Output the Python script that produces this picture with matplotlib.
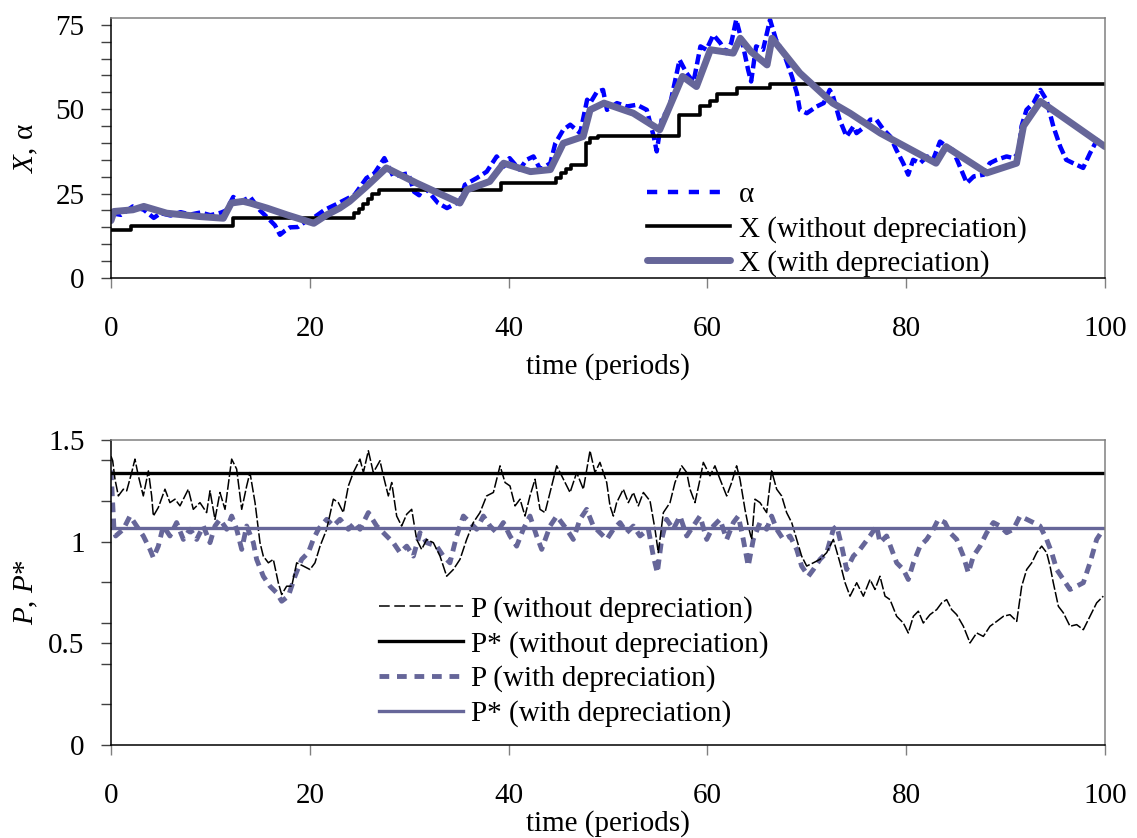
import numpy as np
import matplotlib
matplotlib.use('Agg')
import matplotlib.pyplot as plt
from matplotlib.lines import Line2D
from matplotlib.ticker import MultipleLocator, FixedLocator

plt.rcParams['font.family'] = ['Liberation Serif', 'DejaVu Serif']
plt.rcParams['mathtext.fontset'] = 'custom'
plt.rcParams['mathtext.rm'] = 'Liberation Serif'
plt.rcParams['mathtext.it'] = 'Liberation Serif:italic'
plt.rcParams['font.size'] = 21

# ---- top panel: alpha, X ----
alpha_t = [0.0, 1.0, 2.2, 3.3, 4.3, 5.0, 6.0, 7.0, 8.0, 9.0, 10.0, 11.0, 11.6, 12.3, 13.0, 14.0, 15.0, 15.7,
           16.5, 17.0, 17.5, 18.0, 18.8, 19.5, 20.5, 21.5, 22.5, 23.5, 24.5, 25.7, 26.5, 27.5, 28.4, 29.9,
           30.5, 31.0, 31.5, 32.9, 33.8, 35.1, 35.6, 36.8, 37.8, 38.8, 39.5, 40.1, 41.1, 41.8, 42.5, 43.2,
           44.2, 44.7, 45.5, 46.2, 47.2, 47.9, 48.2, 48.9, 49.5, 49.9, 50.9, 51.9, 52.9, 53.9, 54.6, 54.9,
           55.4, 56.2, 57.2, 57.9, 58.6, 59.3, 59.9, 60.6, 61.3, 61.9, 62.4, 62.9, 63.6, 64.1, 64.4, 64.9,
           65.6, 66.3, 66.9, 67.8, 68.5, 69.0, 69.3, 70.0, 71.0, 71.7, 72.3, 72.6, 73.3, 74.0, 74.7, 75.0,
           75.7, 76.4, 77.0, 77.7, 78.4, 79.0, 79.7, 80.2, 80.7, 81.4, 82.1, 82.7, 83.4, 84.1, 84.7, 85.4,
           86.1, 86.8, 87.8, 88.4, 89.1, 90.1, 90.8, 91.3, 91.6, 92.1, 92.8, 93.5, 94.1, 94.8, 95.5, 96.1,
           96.8, 97.8, 98.5, 99.2, 100.0]
alpha = [19.2, 18.7, 21.2, 20.2, 17.8, 19.2, 18.5, 19.5, 18.8, 19.4, 18.6, 19.3, 20.0, 24.0, 22.5, 24.0, 20.0, 18.0,
         15.6, 12.8, 14.0, 15.0, 15.1, 16.6, 18.1, 20.2, 21.6, 23.1, 24.6, 29.6, 31.0, 35.5, 30.1, 31.0,
         25.5, 24.5, 27.1, 22.2, 20.7, 22.7, 27.6, 29.6, 31.5, 36.0, 33.0, 35.5, 32.1, 35.0, 36.0, 32.1,
         34.0, 39.9, 43.9, 45.4, 42.9, 52.8, 51.8, 55.2, 55.7, 49.8, 51.8, 50.8, 51.3, 49.8, 41.9, 37.5,
         46.9, 50.8, 64.6, 60.7, 58.0, 68.6, 67.6, 72.0, 69.6, 66.6, 69.6, 76.5, 68.6, 61.6, 58.2, 68.6,
         67.6, 76.5, 70.6, 65.6, 59.7, 54.8, 49.8, 48.8, 50.8, 51.8, 55.7, 54.2, 46.9, 41.9, 44.9, 42.9,
         44.5, 46.9, 46.9, 44.0, 41.9, 38.0, 34.0, 30.6, 35.0, 34.0, 36.0, 35.0, 40.4, 38.9, 37.9, 33.0,
         28.1, 30.1, 30.6, 34.0, 35.0, 36.0, 35.5, 37.0, 44.9, 49.8, 51.8, 55.7, 52.8, 44.9, 38.9, 35.0,
         34.0, 32.6, 37.0, 40.9, 38.9]

# X without depreciation (step levels)
xnd_t = [0, 2.0, 12.3, 24.4, 24.9, 25.4, 25.9, 26.3, 27.0, 39.2, 44.8, 45.3, 45.8, 46.3, 47.8, 48.2,
         49.0, 57.1, 59.3, 60.3, 61.0, 63.0, 66.3, 100]
xnd = [14.3, 15.3, 17.8, 19.2, 20.5, 22.0, 23.5, 25.0, 26.1, 28.1, 29.6, 31.0, 32.2, 33.5, 39.9, 41.4,
       42.1, 48.3, 50.8, 52.3, 54.5, 56.3, 57.4, 57.4]

# X with depreciation
xwd_t = [0.0, 0.3, 2.2, 3.3, 5.6, 8.9, 11.3, 12.1, 13.3, 14.0, 15.7, 17.7, 20.4, 21.7, 23.0, 24.0, 25.7,
         27.7, 30.75, 35.1, 35.8, 38.1, 39.5, 42.2, 44.2, 45.5, 47.5, 48.2, 49.6, 52.55, 55.2, 57.5, 58.9,
         60.3, 62.6, 63.3, 64.4, 66.0, 66.5, 69.3, 72.6, 74.35, 77.4, 83.0, 84.0, 88.1, 91.1, 91.8, 93.5,
         100.0]
xwd = [17.0, 19.7, 20.2, 21.2, 19.2, 18.2, 17.7, 22.2, 22.7, 22.2, 20.7, 18.7, 16.2, 18.7, 20.7, 22.7, 27.1,
       32.6, 28.1, 22.2, 26.1, 28.6, 34.0, 31.5, 32.1, 39.9, 41.9, 49.8, 51.8, 48.8, 43.9, 59.7, 56.7,
       67.6, 66.6, 71.0, 67.0, 63.1, 71.0, 60.7, 51.8, 48.8, 42.9, 34.0, 38.9, 31.1, 34.0, 45.0, 52.3,
       38.9]

# ---- bottom panel: P, P* ----
pnd_t = [0.0, 0.17, 0.40, 0.74, 1.24, 1.58, 2.08, 2.41, 2.75, 3.25,
         3.76, 4.09, 4.26, 4.76, 5.43, 5.93, 6.44, 6.94, 7.78, 8.28,
         8.95, 9.62, 9.96, 10.46, 10.96, 11.47, 12.14, 12.64, 13.15, 13.65,
         13.98, 14.49, 14.99, 15.32, 15.83, 16.33, 16.83, 17.17, 17.67, 18.18,
         18.68, 19.35, 20.02, 20.52, 21.03, 21.70, 22.37, 22.87, 23.37, 23.88,
         24.38, 25.05, 25.39, 25.89, 26.39, 27.06, 27.40, 27.90, 28.24, 28.74,
         29.24, 29.75, 30.25, 30.75, 31.25, 31.76, 32.43, 33.10, 33.77, 34.44,
         35.11, 35.78, 36.45, 37.12, 37.79, 38.47, 39.14, 39.64, 40.14, 40.65,
         41.15, 41.65, 42.15, 42.66, 43.16, 43.66, 44.17, 44.84, 45.51, 46.18,
         46.85, 47.52, 48.19, 48.69, 49.19, 49.87, 50.20, 50.54, 50.87, 51.54,
         52.05, 52.55, 53.05, 53.56, 54.23, 54.73, 55.06, 55.57, 56.24, 56.74,
         57.41, 57.92, 58.25, 58.75, 59.26, 59.59, 60.26, 60.76, 61.27, 61.94,
         62.44, 62.94, 63.28, 63.78, 64.11, 64.45, 64.79, 65.29, 65.96, 66.46,
         66.97, 67.47, 67.97, 68.48, 68.98, 69.48, 69.99, 70.66, 71.33, 72.00,
         72.67, 73.34, 73.85, 74.35, 75.02, 75.69, 76.36, 76.86, 77.36, 77.87,
         78.37, 79.04, 79.71, 80.21, 80.72, 81.22, 81.72, 82.39, 83.07, 83.57,
         84.07, 84.57, 85.08, 85.75, 86.42, 87.09, 87.76, 88.43, 89.11, 89.78,
         90.44, 91.12, 91.62, 92.12, 92.63, 93.13, 93.63, 94.13, 94.47, 94.80,
         95.31, 95.81, 96.48, 97.15, 97.82, 98.49, 99.16, 99.83]
pnd = [1.42, 1.398, 1.307, 1.225, 1.258, 1.250, 1.340, 1.406, 1.324, 1.225,
       1.348, 1.225, 1.126, 1.168, 1.258, 1.192, 1.209, 1.176, 1.258, 1.159,
       1.192, 1.143, 1.250, 1.110, 1.242, 1.159, 1.406, 1.357, 1.159, 1.274,
       1.340, 1.192, 0.995, 0.929, 0.896, 0.913, 0.798, 0.740, 0.781, 0.781,
       0.896, 0.880, 0.863, 0.896, 0.978, 1.061, 1.209, 1.192, 1.143, 1.274,
       1.340, 1.406, 1.340, 1.447, 1.340, 1.398, 1.324, 1.225, 1.291, 1.126,
       1.077, 1.135, 1.159, 1.011, 0.962, 1.011, 0.995, 0.929, 0.830, 0.863,
       0.913, 1.011, 1.094, 1.143, 1.225, 1.242, 1.373, 1.291, 1.274, 1.176,
       1.209, 1.126, 1.225, 1.307, 1.159, 1.143, 1.242, 1.373, 1.307, 1.242,
       1.340, 1.258, 1.447, 1.340, 1.390, 1.291, 1.176, 1.126, 1.192, 1.258,
       1.192, 1.242, 1.176, 1.242, 1.200, 1.061, 0.946, 1.143, 1.192, 1.291,
       1.373, 1.340, 1.258, 1.192, 1.307, 1.390, 1.324, 1.373, 1.307, 1.225,
       1.291, 1.373, 1.307, 1.159, 1.077, 1.011, 1.209, 1.192, 1.143, 1.348,
       1.258, 1.225, 1.143, 1.094, 1.011, 0.929, 0.880, 0.896, 0.913, 0.946,
       1.011, 0.896, 0.798, 0.732, 0.798, 0.732, 0.814, 0.765, 0.830, 0.732,
       0.715, 0.633, 0.600, 0.551, 0.633, 0.658, 0.600, 0.641, 0.666, 0.699,
       0.715, 0.666, 0.641, 0.584, 0.502, 0.551, 0.534, 0.584, 0.608, 0.633,
       0.641, 0.608, 0.781, 0.863, 0.896, 0.946, 0.978, 0.946, 0.880, 0.798,
       0.682, 0.650, 0.584, 0.592, 0.567, 0.633, 0.699, 0.732]

pwd_t = [0.0, 0.3, 0.47, 1.24, 1.91, 2.58, 3.25, 3.92, 4.26, 4.76,
         5.26, 5.93, 6.60, 7.28, 7.95, 8.62, 9.29, 9.96, 10.46, 10.96,
         11.64, 12.14, 12.64, 13.15, 13.65, 14.32, 14.65, 15.32, 15.99, 16.67,
         17.17, 17.84, 18.51, 19.18, 19.85, 20.35, 20.86, 21.70, 22.37, 23.04,
         23.88, 24.55, 25.05, 25.89, 26.73, 27.40, 28.40, 29.08, 29.75, 30.42,
         31.09, 31.76, 32.76, 33.43, 34.10, 34.77, 35.45, 36.12, 36.79, 37.46,
         38.13, 38.80, 39.47, 40.14, 40.81, 41.48, 42.15, 42.82, 43.33, 44.17,
         44.84, 45.84, 46.51, 47.18, 47.85, 48.52, 49.19, 49.87, 50.54, 51.21,
         51.88, 52.55, 53.22, 54.06, 54.56, 54.96, 55.40, 55.90, 56.57, 57.24,
         57.92, 58.58, 59.26, 59.93, 60.60, 61.27, 61.94, 62.61, 63.11, 63.61,
         64.11, 64.62, 65.29, 65.96, 66.46, 66.97, 67.64, 68.31, 68.98, 69.48,
         70.16, 70.66, 71.33, 72.00, 72.67, 73.01, 73.51, 74.01, 74.68, 75.35,
         76.36, 77.03, 77.36, 78.03, 78.54, 79.04, 79.71, 80.21, 80.72, 81.39,
         82.06, 82.73, 83.23, 83.90, 84.41, 85.08, 85.75, 86.25, 86.76, 87.43,
         88.10, 88.77, 89.44, 90.11, 90.78, 91.45, 92.12, 92.79, 93.46, 94.13,
         94.64, 95.14, 95.81, 96.48, 97.15, 97.82, 98.49, 99.16, 99.83]
pwd = [1.35, 1.061, 1.028, 1.061, 1.126, 1.077, 1.028, 0.962, 0.921, 0.978,
       1.077, 1.028, 1.094, 1.011, 1.061, 1.011, 1.077, 0.995, 1.077, 1.110,
       1.061, 1.126, 1.061, 0.962, 1.077, 0.995, 0.913, 0.830, 0.781, 0.748,
       0.707, 0.732, 0.830, 0.913, 0.946, 1.011, 1.061, 1.110, 1.077, 1.110,
       1.061, 1.094, 1.061, 1.143, 1.077, 1.044, 0.995, 0.946, 0.978, 0.929,
       1.044, 0.995, 0.978, 0.929, 0.896, 1.028, 1.126, 1.094, 1.061, 1.126,
       1.077, 1.044, 1.094, 1.028, 0.978, 1.061, 1.126, 1.028, 0.962, 1.077,
       1.126, 1.061, 1.011, 1.110, 1.159, 1.077, 1.044, 1.011, 1.061, 1.094,
       1.044, 1.077, 1.028, 1.061, 0.929, 0.847, 1.011, 1.110, 1.061, 1.126,
       1.028, 1.077, 1.126, 1.011, 1.077, 1.110, 1.011, 1.094, 1.126, 1.011,
       0.880, 1.011, 1.094, 1.061, 1.126, 1.061, 1.011, 1.028, 0.962, 0.880,
       0.830, 0.863, 0.913, 0.946, 1.061, 1.077, 0.978, 0.863, 0.929, 0.962,
       1.028, 1.077, 0.995, 1.028, 0.962, 0.896, 0.863, 0.814, 0.896, 0.978,
       1.011, 1.061, 1.110, 1.094, 1.044, 1.011, 0.929, 0.847, 0.929, 0.978,
       1.044, 1.094, 1.077, 1.044, 1.061, 1.126, 1.110, 1.094, 1.077, 1.011,
       0.946, 0.863, 0.814, 0.765, 0.781, 0.798, 0.896, 1.011, 1.061]

pstar_nd = 1.34
pstar_wd = 1.069

GRAY = '#666699'


def style_axes(ax):
    ax.spines['left'].set_color('black')
    ax.spines['bottom'].set_color('black')
    ax.spines['top'].set_color('#808080')
    ax.spines['right'].set_color('#808080')
    for s in ax.spines.values():
        s.set_linewidth(1.1)
    ax.set_xlim(0, 100)
    ax.xaxis.set_major_locator(MultipleLocator(20))
    ax.tick_params(axis='x', which='major', direction='out', length=7, width=1,
                   color='#808080', pad=20)
    ax.tick_params(axis='y', which='both', direction='out', length=7, width=1,
                   color='#404040', pad=12)


fig = plt.figure(figsize=(11.37, 8.38), dpi=100)
ax1 = fig.add_axes([111 / 1137, 1 - 278 / 838, 994 / 1137, 260 / 838])
ax2 = fig.add_axes([111 / 1137, 1 - 745 / 838, 994 / 1137, 305 / 838])

# top
ax1.plot(alpha_t, alpha, color='#0000FF', lw=3.2, dashes=(2.3, 1.0), dash_capstyle='butt')
ax1.plot(xnd_t, xnd, color='black', lw=2.6, drawstyle='steps-post')
ax1.plot(xwd_t, xwd, color=GRAY, lw=5, solid_capstyle='round')
la = Line2D([], [], color='#0000FF', lw=3.2, dashes=(2.3, 2.4), dash_capstyle='butt')
lb = Line2D([], [], color='black', lw=2.6)
lc = Line2D([], [], color=GRAY, lw=5, solid_capstyle='round')
style_axes(ax1)
ax1.set_ylim(0, 77)
ax1.yaxis.set_major_locator(FixedLocator([0, 25, 50, 75]))
ax1.yaxis.set_minor_locator(FixedLocator([5, 10, 15, 20, 30, 35, 40, 45, 55, 60, 65, 70]))
ax1.set_xlabel('time (periods)', labelpad=8)
ax1.set_ylabel('$X$, α')
ax1.yaxis.set_label_coords(-0.0715, 0.5)
ax1.legend(handles=[la, lb, lc], labels=['α', 'X (without depreciation)', 'X (with depreciation)'],
           loc='upper left', bbox_to_anchor=(0.539, 0.369),
           frameon=False, borderpad=0, borderaxespad=0, handlelength=2.85,
           handletextpad=0.3, labelspacing=0.25)

# bottom
ax2.plot(pwd_t, pwd, color=GRAY, lw=3.5, dashes=(2.0, 1.3), dash_capstyle='butt')
ax2.plot(pnd_t, pnd, color='black', lw=1.1, dashes=(7, 1.5))
ax2.axhline(pstar_nd, color='black', lw=2.4)
ax2.axhline(pstar_wd, color=GRAY, lw=2.4)
l1 = Line2D([], [], color='black', lw=1.1, dashes=(7, 3))
l2 = Line2D([], [], color='black', lw=2.4)
l4 = Line2D([], [], color=GRAY, lw=3.5, dashes=(2.0, 1.6), dash_capstyle='butt')
l5 = Line2D([], [], color=GRAY, lw=2.4)
style_axes(ax2)
ax2.set_ylim(0, 1.5)
ax2.yaxis.set_major_locator(FixedLocator([0, 0.5, 1, 1.5]))
ax2.yaxis.set_minor_locator(FixedLocator([0.2, 0.4, 0.6, 0.8, 1.2, 1.4]))
ax2.set_yticklabels(['0', '0.5', '1', '1.5'])
ax2.set_xlabel('time (periods)', labelpad=1)
ax2.set_ylabel('$P$, $P$*')
ax2.yaxis.set_label_coords(-0.0715, 0.5)
ax2.legend(handles=[l1, l2, l4, l5],
           labels=['P (without depreciation)', 'P* (without depreciation)',
                   'P (with depreciation)', 'P* (with depreciation)'],
           loc='upper left', bbox_to_anchor=(0.27, 0.489),
           frameon=False, borderpad=0, borderaxespad=0, handlelength=2.85,
           handletextpad=0.3, labelspacing=0.27)

fig.savefig('out.png', dpi=100)
